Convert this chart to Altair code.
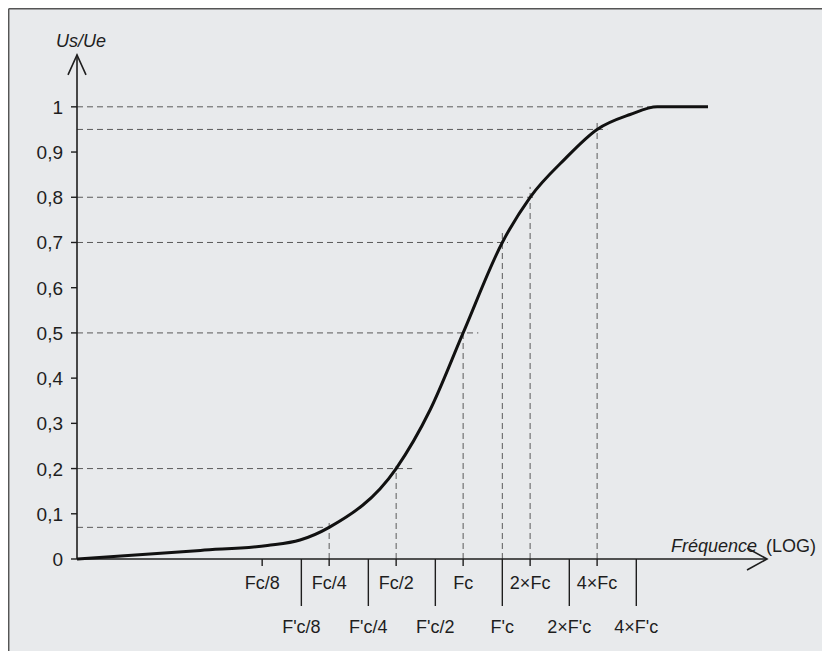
import altair as alt
import pandas as pd

# ---- data (frequency in units of Fc, log scale) ----
curve_f = [0.0184, 0.066, 0.132, 0.185, 0.25, 0.5, 0.711, 1.0, 1.5, 2.0, 2.87, 4.0,
           5.63, 7.45, 12.6]
curve_v = [0.0, 0.019, 0.03, 0.042, 0.07, 0.2, 0.33, 0.5, 0.7, 0.8, 0.885, 0.95,
           0.983, 1.0, 1.0]

y_tick_values = [0.0, 0.1, 0.2, 0.3, 0.4, 0.5, 0.6, 0.7, 0.8, 0.9, 1.0]
y_tick_labels = ["0", "0,1", "0,2", "0,3", "0,4", "0,5", "0,6", "0,7", "0,8", "0,9", "1"]

fc_ticks = [0.125, 0.25, 0.5, 1.0, 2.0, 4.0]
fc_labels = ["Fc/8", "Fc/4", "Fc/2", "Fc", "2×Fc", "4×Fc"]
fpc_ticks = [0.1875, 0.375, 0.75, 1.5, 3.0, 6.0]
fpc_labels = ["F'c/8", "F'c/4", "F'c/2", "F'c", "2×F'c", "4×F'c"]

h_levels = [0.07, 0.2, 0.5, 0.7, 0.8, 0.95, 1.0]
h_ends = [0.248, 0.59, 1.17, 1.59, 2.11, 4.44, 7.14]
v_freqs = [0.25, 0.5, 1.0, 1.5, 2.0, 4.0]
v_tops = [0.08, 0.206, 0.502, 0.728, 0.823, 0.967]

x_min, x_max = 0.0184, 23.2
y_max = 1.15
y_arrow = 1.115

W, H = 690, 520
FONT = "Liberation Sans"
INK = "#1e1e1e"
DASH = "#5a5a5a"

xs = alt.Scale(type="log", base=2, domain=[x_min, x_max], nice=False)
ys = alt.Scale(domain=[0, y_max], nice=False, zero=True)

curve_df = pd.DataFrame({"f": curve_f, "v": curve_v})
h_df = pd.DataFrame({"x0": [x_min] * len(h_levels), "x1": h_ends, "v": h_levels})
v_df = pd.DataFrame({"f": v_freqs, "y0": [0.0] * len(v_freqs), "top": v_tops})
yt_df = pd.DataFrame({"v": y_tick_values, "lab": y_tick_labels})
fc_df = pd.DataFrame({"f": fc_ticks, "lab": fc_labels})
fpc_df = pd.DataFrame({"f": fpc_ticks, "lab": fpc_labels})
axis_df = pd.DataFrame({"x0": [x_min], "x1": [x_max], "y0": [0.0], "y1": [y_arrow]})
one = pd.DataFrame({"k": [0]})

X = lambda f: alt.X(f, scale=xs, axis=None)
Y = lambda f: alt.Y(f, scale=ys, axis=None)

hlines = alt.Chart(h_df).mark_rule(strokeDash=[6, 4], color=DASH, strokeWidth=1).encode(
    x=X("x0:Q"), x2="x1:Q", y=Y("v:Q"))
vlines = alt.Chart(v_df).mark_rule(strokeDash=[6, 4], color=DASH, strokeWidth=1).encode(
    x=X("f:Q"), y=Y("y0:Q"), y2="top:Q")

yaxis = alt.Chart(axis_df).mark_rule(color=INK, strokeWidth=1.6).encode(
    x=X("x0:Q"), y=Y("y0:Q"), y2="y1:Q")
xaxis = alt.Chart(axis_df).mark_rule(color=INK, strokeWidth=1.6).encode(
    x=X("x0:Q"), x2="x1:Q", y=Y("y0:Q"))

yhead = alt.Chart(axis_df).mark_point(
    shape="M-0.45,1L0,0L0.45,1", filled=False, stroke=INK, strokeWidth=1.6, size=1600, opacity=1
).encode(x=X("x0:Q"), y=Y("y1:Q"))
xhead = alt.Chart(axis_df).mark_point(
    shape="M-1,-0.55L0,0L-1,0.55", filled=False, stroke=INK, strokeWidth=1.6, size=1600, opacity=1
).encode(x=X("x1:Q"), y=Y("y0:Q"))

curve = alt.Chart(curve_df).mark_line(color="#111111", strokeWidth=3, interpolate="monotone").encode(
    x=X("f:Q"), y=Y("v:Q"))

yticks = alt.Chart(yt_df).mark_rule(color=INK, strokeWidth=1.4).encode(
    x=alt.value(-6), x2=alt.value(0), y=Y("v:Q"))
ylabels = alt.Chart(yt_df).mark_text(align="right", baseline="middle", font=FONT, fontSize=19,
                                     color=INK, dy=1).encode(
    x=alt.value(-14), y=Y("v:Q"), text="lab:N")

fcticks = alt.Chart(fc_df).mark_rule(color=INK, strokeWidth=1.4).encode(
    x=X("f:Q"), y=alt.value(H), y2=alt.value(H + 7))
fclabels = alt.Chart(fc_df).mark_text(align="center", baseline="alphabetic", font=FONT,
                                      fontSize=18, color=INK).encode(
    x=X("f:Q"), y=alt.value(H + 30), text="lab:N")
fpcticks = alt.Chart(fpc_df).mark_rule(color=INK, strokeWidth=1.4).encode(
    x=X("f:Q"), y=alt.value(H), y2=alt.value(H + 47))
fpclabels = alt.Chart(fpc_df).mark_text(align="center", baseline="alphabetic", font=FONT,
                                        fontSize=18, color=INK).encode(
    x=X("f:Q"), y=alt.value(H + 74), text="lab:N")

ytitle = alt.Chart(one).mark_text(align="center", baseline="alphabetic", font=FONT, fontSize=18,
                                  fontStyle="italic", color=INK).encode(
    x=alt.value(4), y=alt.value(8), text=alt.value("Us/Ue"))
xtitle1 = alt.Chart(one).mark_text(align="left", baseline="alphabetic", font=FONT, fontSize=18,
                                   fontStyle="italic", color=INK).encode(
    x=alt.value(594), y=alt.value(H - 7), text=alt.value("Fréquence"))
xtitle2 = alt.Chart(one).mark_text(align="left", baseline="alphabetic", font=FONT, fontSize=18,
                                   color=INK).encode(
    x=alt.value(689), y=alt.value(H - 7), text=alt.value("(LOG)"))

frame_left = alt.Chart(one).mark_rule(color="#555555", strokeWidth=1.5).encode(
    x=alt.value(-68.3), y=alt.value(-30.3), y2=alt.value(H + 92))
frame_top = alt.Chart(one).mark_rule(color="#555555", strokeWidth=1.5).encode(
    x=alt.value(-68.3), x2=alt.value(W + 55), y=alt.value(-30.3))

chart = alt.layer(
    frame_left, frame_top,
    hlines, vlines, yaxis, xaxis, yhead, xhead, curve,
    yticks, ylabels, fcticks, fclabels, fpcticks, fpclabels,
    ytitle, xtitle1, xtitle2,
).properties(
    width=W, height=H,
    autosize=alt.AutoSizeParams(type="none"),
    padding={"left": 69, "top": 31, "right": 55, "bottom": 92},
    background="#e8eaec",
).configure_view(stroke=None)

chart.save("out.html", embed_options={"renderer": "svg", "actions": False})
